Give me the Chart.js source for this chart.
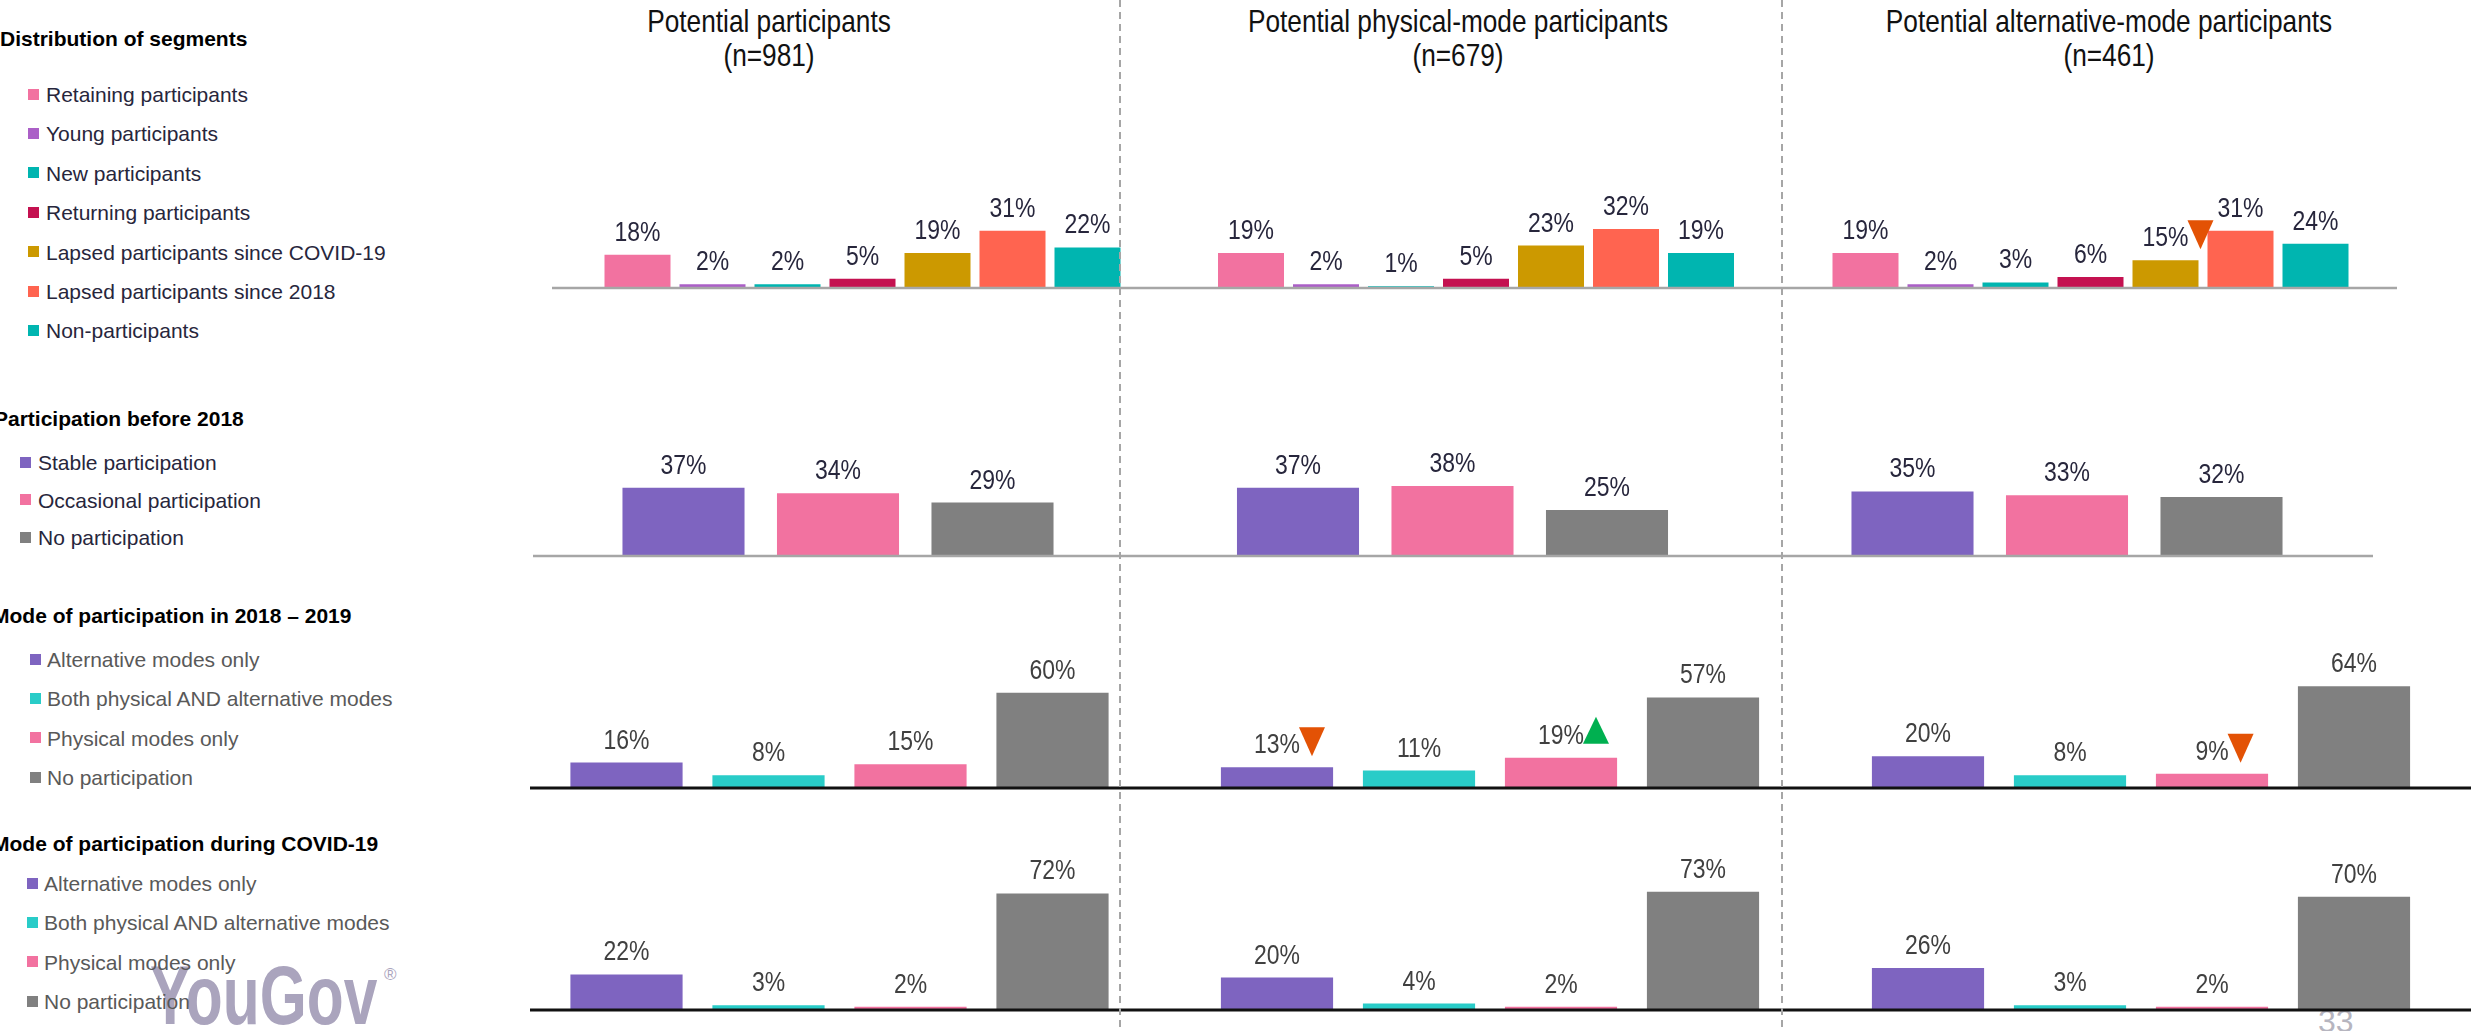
<!DOCTYPE html>
<html>
<head>
<meta charset="utf-8">
<script src="https://cdn.jsdelivr.net/npm/chart.js@4.4.1/dist/chart.umd.min.js"></script>
<style>
  html, body { margin: 0; padding: 0; background: #fff; }
  body { width: 2471px; height: 1031px; position: relative; overflow: hidden; font-family: "Liberation Sans", Arial, sans-serif; }
  .abs { position: absolute; white-space: nowrap; }
  .legend-title { font-weight: bold; font-size: 21px; color: #000; line-height: 1; }
  .legend-item { font-size: 21px; line-height: 1; }
  .legend-box { position: absolute; width: 11px; height: 11px; }
  .panel-title { width: 700px; text-align: center; font-size: 32px; color: #111; line-height: 1; }
  .vdash { position: absolute; top: 0; width: 2px; height: 1031px; z-index: 5;
    background: repeating-linear-gradient(to bottom, #a6a6a6 0 7px, transparent 7px 12px); }
  .logo { font-weight: bold; font-size: 84px; color: #aaa4bd; line-height: 1; transform: scaleX(0.72); transform-origin: left top; z-index: 0; }
  .front { z-index: 2; }
</style>
</head>
<body>
<script>
// ---- data ----
const panelTitles = ["Potential participants", "Potential physical-mode participants", "Potential alternative-mode participants"];
const panelBases = ["(n=981)", "(n=679)", "(n=461)"];

const segmentLabels = ["Retaining participants", "Young participants", "New participants", "Returning participants",
  "Lapsed participants since COVID-19", "Lapsed participants since 2018", "Non-participants"];
const segmentColors = ["#f272a0", "#ab5fc7", "#00b5b0", "#c41150", "#cc9900", "#ff6450", "#00b5b0"];
const segmentValues = [
  [18, 2, 2, 5, 19, 31, 22],
  [19, 2, 1, 5, 23, 32, 19],
  [19, 2, 3, 6, 15, 31, 24]
];
const segmentMarks = [
  [],
  [],
  [null, null, null, null, "down", null, null]
];

const before2018Labels = ["Stable participation", "Occasional participation", "No participation"];
const before2018Colors = ["#7e64c0", "#f272a0", "#808080"];
const before2018Values = [
  [37, 34, 29],
  [37, 38, 25],
  [35, 33, 32]
];

const modeLabels = ["Alternative modes only", "Both physical AND alternative modes", "Physical modes only", "No participation"];
const modeColors = ["#7e64c0", "#29ccc8", "#f272a0", "#808080"];
const mode2018Values = [
  [16, 8, 15, 60],
  [13, 11, 19, 57],
  [20, 8, 9, 64]
];
const mode2018Marks = [
  [],
  ["down", null, "up", null],
  [null, null, "down", null]
];
const modeCovidValues = [
  [22, 3, 2, 72],
  [20, 4, 2, 73],
  [26, 3, 2, 70]
];

// ---- fonts: use the narrow face if it exists, otherwise squeeze the regular one ----
const probe = document.createElement("canvas").getContext("2d");
probe.font = '40px "Liberation Sans Narrow", monospace';
const wNarrow = probe.measureText("Potential 123%").width;
probe.font = "40px monospace";
const hasNarrow = wNarrow !== probe.measureText("Potential 123%").width;
const narrowFamily = hasNarrow ? '"Liberation Sans Narrow"' : '"Liberation Sans"';
const squeeze = hasNarrow ? 1 : 0.82;

function addDiv(cls, text, left, top, extra) {
  const d = document.createElement("div");
  d.className = "abs " + cls;
  d.textContent = text;
  d.style.left = left + "px";
  d.style.top = top + "px";
  if (extra) Object.assign(d.style, extra);
  document.body.appendChild(d);
  return d;
}

// ---- left legend blocks ----
const legendBlocks = [
  { title: "Distribution of segments", titleX: 0, titleY: 28, itemY: 94, step: 39.4, boxX: 28, textX: 46, color: "#27263c", labels: segmentLabels, colors: segmentColors },
  { title: "Participation before 2018", titleX: -6, titleY: 408, itemY: 462, step: 37.6, boxX: 20, textX: 38, color: "#27263c", labels: before2018Labels, colors: before2018Colors },
  { title: "Mode of participation in 2018 \u2013 2019", titleX: -8, titleY: 605, itemY: 659, step: 39.4, boxX: 30, textX: 47, color: "#595959", labels: modeLabels, colors: modeColors },
  { title: "Mode of participation during COVID-19", titleX: -8, titleY: 833, itemY: 883, step: 39.4, boxX: 27, textX: 44, color: "#595959", labels: modeLabels, colors: modeColors }
];

legendBlocks.forEach(b => {
  addDiv("legend-title front", b.title, b.titleX, b.titleY);
  b.labels.forEach((lab, i) => {
    const cy = b.itemY + i * b.step;
    const box = addDiv("legend-box front", "", b.boxX, cy - 5.5);
    box.style.background = b.colors[i];
    addDiv("legend-item front", lab, b.textX, cy - 10, { color: b.color });
  });
});

// ---- panel titles ----
const titleCenters = [769, 1458, 2109];
panelTitles.forEach((t, i) => {
  const extra = { fontFamily: narrowFamily };
  if (squeeze !== 1) extra.transform = "scaleX(" + squeeze + ")";
  addDiv("panel-title", t, titleCenters[i] - 350, 5, extra);
  addDiv("panel-title", panelBases[i], titleCenters[i] - 350, 39, Object.assign({}, extra));
});

// ---- dashed separators ----
[1120, 1782].forEach(x => addDiv("vdash", "", x - 1, 0));

// ---- logo and page number ----
addDiv("logo", "YouGov", 150, 953);
addDiv("", "\u00ae", 384, 966, { fontSize: "17px", color: "#aaa4bd", lineHeight: "1" });
addDiv("", "33", 2318, 1005, { fontSize: "32px", color: "#b6b5bf", lineHeight: "1", fontFamily: narrowFamily });

// ---- chart plugins ----
function drawLabel(ctx, text, x, y, color) {
  ctx.save();
  ctx.translate(x, y);
  ctx.scale(squeeze, 1);
  ctx.font = "28px " + narrowFamily;
  ctx.fillStyle = color;
  ctx.textAlign = "center";
  ctx.textBaseline = "alphabetic";
  ctx.fillText(text, 0, 0);
  const w = ctx.measureText(text).width * squeeze;
  ctx.restore();
  return w;
}

const valueLabels = {
  id: "valueLabels",
  afterDatasetsDraw(chart, args, opts) {
    const ctx = chart.ctx;
    const meta = chart.getDatasetMeta(0);
    const values = chart.data.datasets[0].data;
    const marks = opts.marks || [];
    meta.data.forEach((bar, i) => {
      const base = bar.y - 14;
      const w = drawLabel(ctx, values[i] + "%", bar.x, base, opts.color);
      const mark = marks[i];
      if (!mark) return;
      const left = bar.x + w / 2 - 1;
      ctx.save();
      ctx.beginPath();
      if (mark === "down") {
        ctx.fillStyle = "#e35205";
        ctx.moveTo(left, base - 26);
        ctx.lineTo(left + 26, base - 26);
        ctx.lineTo(left + 13, base + 3);
      } else {
        ctx.fillStyle = "#00b050";
        ctx.moveTo(left, base);
        ctx.lineTo(left + 26, base);
        ctx.lineTo(left + 13, base - 27);
      }
      ctx.closePath();
      ctx.fill();
      ctx.restore();
    });
  }
};

const baseRule = {
  id: "baseRule",
  afterDatasetsDraw(chart, args, opts) {
    const y0 = chart.scales.y.getPixelForValue(0);
    const ctx = chart.ctx;
    ctx.save();
    ctx.fillStyle = opts.color;
    ctx.fillRect(0, y0 - opts.width / 2, chart.width, opts.width);
    ctx.restore();
  }
};

// ---- rows of small bar charts ----
const rows = [
  { values: segmentValues, marks: segmentMarks, labels: segmentLabels, colors: segmentColors,
    top: 138, base: 288, max: 81.3, pitch: 75, barRatio: 0.88, centers: [637.5, 1251, 1865.5],
    spans: [[552, 1126], [1126, 1782], [1782, 2397]], rule: "#a6a6a6", ruleW: 2.5, text: "#27263c" },
  { values: before2018Values, marks: [], labels: before2018Labels, colors: before2018Colors,
    top: 426, base: 556, max: 70.5, pitch: 154.5, barRatio: 0.79, centers: [683.5, 1298, 1912.5],
    spans: [[533, 1120], [1120, 1782], [1782, 2373]], rule: "#a6a6a6", ruleW: 2.5, text: "#27263c" },
  { values: mode2018Values, marks: mode2018Marks, labels: modeLabels, colors: modeColors,
    top: 618, base: 788, max: 107, pitch: 142, barRatio: 0.79, centers: [626.5, 1277, 1928],
    spans: [[530, 1124], [1124, 1782], [1782, 2471]], rule: "#111", ruleW: 3, text: "#404040" },
  { values: modeCovidValues, marks: [], labels: modeLabels, colors: modeColors,
    top: 840, base: 1010, max: 105, pitch: 142, barRatio: 0.79, centers: [626.5, 1277, 1928],
    spans: [[530, 1124], [1124, 1782], [1782, 2471]], rule: "#111", ruleW: 3, text: "#404040" }
];

rows.forEach(row => {
  row.values.forEach((vals, p) => {
    const [x0, x1] = row.spans[p];
    const n = vals.length;
    const areaLeft = row.centers[p] - row.pitch / 2;
    const areaRight = areaLeft + row.pitch * n;
    const w = x1 - x0;
    const h = row.base - row.top + 4;
    const canvas = document.createElement("canvas");
    canvas.width = w;
    canvas.height = h;
    canvas.style.cssText = "position:absolute;z-index:1;left:" + x0 + "px;top:" + row.top + "px;width:" + w + "px;height:" + h + "px";
    document.body.appendChild(canvas);

    new Chart(canvas, {
      type: "bar",
      data: {
        labels: row.labels,
        datasets: [{
          data: vals,
          backgroundColor: row.colors,
          borderWidth: 0,
          barPercentage: 1,
          categoryPercentage: row.barRatio
        }]
      },
      options: {
        responsive: false,
        animation: false,
        devicePixelRatio: 1,
        layout: { padding: { left: areaLeft - x0, right: x1 - areaRight, top: 0, bottom: 4 } },
        plugins: {
          legend: { display: false },
          tooltip: { enabled: false },
          valueLabels: { color: row.text, marks: row.marks[p] || [] },
          baseRule: { color: row.rule, width: row.ruleW }
        },
        scales: {
          x: { display: false },
          y: { display: false, min: 0, max: row.max }
        }
      },
      plugins: [valueLabels, baseRule]
    });
  });
});
</script>
</body>
</html>
